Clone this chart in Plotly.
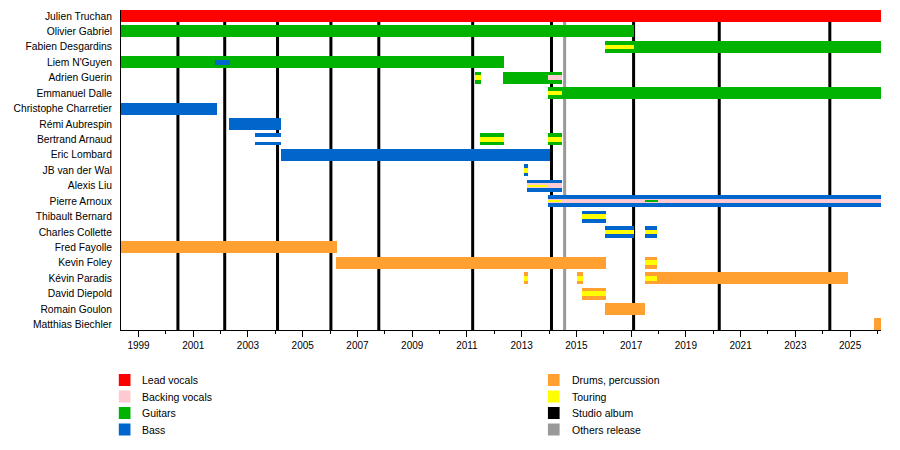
import plotly.graph_objects as go

# band members, top to bottom
members = [
    "Julien Truchan", "Olivier Gabriel", "Fabien Desgardins", "Liem N'Guyen",
    "Adrien Guerin", "Emmanuel Dalle", "Christophe Charretier", "Rémi Aubrespin",
    "Bertrand Arnaud", "Eric Lombard", "JB van der Wal", "Alexis Liu",
    "Pierre Arnoux", "Thibault Bernard", "Charles Collette", "Fred Fayolle",
    "Kevin Foley", "Kévin Paradis", "David Diepold", "Romain Goulon",
    "Matthias Biechler",
]

START = 1998.36
NOW = 2026.13

colors = {
    "Lead vocals": "#FF0000",
    "Backing vocals": "#FFC9D2",
    "Guitars": "#00B300",
    "Bass": "#0066CC",
    "Drums, percussion": "#FFA030",
    "Touring": "#FFFF00",
    "Studio album": "#000000",
    "Others release": "#999999",
    "gap": "#FFFFFF",
}

# main bars
main_member = [
    "Julien Truchan", "Olivier Gabriel", "Fabien Desgardins", "Liem N'Guyen",
    "Adrien Guerin", "Adrien Guerin", "Emmanuel Dalle", "Christophe Charretier",
    "Rémi Aubrespin", "Bertrand Arnaud", "Bertrand Arnaud", "Bertrand Arnaud",
    "Eric Lombard", "JB van der Wal", "Alexis Liu", "Pierre Arnoux",
    "Thibault Bernard", "Charles Collette", "Charles Collette", "Fred Fayolle",
    "Kevin Foley", "Kevin Foley", "Kévin Paradis", "Kévin Paradis", "Kévin Paradis",
    "David Diepold", "Romain Goulon", "Matthias Biechler",
]
main_start = [
    START, START, 2016.06, START,
    2011.31, 2012.30, 2013.97, START,
    2002.32, 2003.24, 2011.46, 2013.97,
    2004.19, 2013.07, 2013.20, 2013.97,
    2015.20, 2016.06, 2017.49, START,
    2006.23, 2017.49, 2013.07, 2015.04, 2017.49,
    2015.20, 2016.06, 2025.87,
]
main_end = [
    NOW, 2017.12, NOW, 2012.34,
    2011.50, 2014.49, NOW, 2001.85,
    2004.19, 2004.19, 2012.34, 2014.49,
    2014.02, 2013.24, 2014.49, NOW,
    2016.08, 2017.10, 2017.95, 2006.27,
    2016.08, 2017.96, 2013.24, 2015.24, 2024.93,
    2016.08, 2017.52, NOW,
]
main_role = [
    "Lead vocals", "Guitars", "Guitars", "Guitars",
    "Guitars", "Guitars", "Guitars", "Bass",
    "Bass", "Bass", "Guitars", "Guitars",
    "Bass", "Bass", "Bass", "Bass",
    "Bass", "Bass", "Bass", "Drums, percussion",
    "Drums, percussion", "Drums, percussion", "Drums, percussion",
    "Drums, percussion", "Drums, percussion",
    "Drums, percussion", "Drums, percussion", "Drums, percussion",
]

# inner stripes (touring, second roles)
inner_member = [
    "Fabien Desgardins", "Liem N'Guyen", "Adrien Guerin", "Adrien Guerin",
    "Emmanuel Dalle", "Bertrand Arnaud", "Bertrand Arnaud", "Bertrand Arnaud",
    "JB van der Wal", "Alexis Liu", "Pierre Arnoux", "Thibault Bernard",
    "Charles Collette", "Charles Collette", "Kevin Foley",
    "Kévin Paradis", "Kévin Paradis", "Kévin Paradis", "David Diepold",
]
inner_start = [
    2016.06, 2001.80, 2011.31, 2013.97,
    2013.97, 2003.24, 2011.46, 2013.97,
    2013.07, 2013.20, 2013.97, 2015.20,
    2016.06, 2017.49, 2017.49,
    2013.07, 2015.04, 2017.49, 2015.20,
]
inner_end = [
    2017.12, 2002.35, 2011.50, 2014.49,
    2014.49, 2004.19, 2012.34, 2014.49,
    2013.24, 2014.49, NOW, 2016.08,
    2017.10, 2017.95, 2017.96,
    2013.24, 2015.24, 2017.96, 2016.08,
]
inner_role = [
    "Touring", "Bass", "Touring", "Backing vocals",
    "Touring", "gap", "Touring", "Touring",
    "Touring", "Backing vocals", "Backing vocals", "Touring",
    "Touring", "Touring", "Touring",
    "Touring", "Touring", "Touring", "Touring",
]

# thin core stripes on top of inner ones
core_member = ["Alexis Liu", "Pierre Arnoux", "Pierre Arnoux"]
core_start = [2013.20, 2013.97, 2017.50]
core_end = [2013.97, 2014.49, 2017.98]
core_role = ["Touring", "Touring", "Guitars"]

studio_albums = [2000.44, 2002.15, 2004.08, 2006.03, 2007.78,
                 2011.21, 2014.09, 2017.09, 2020.22, 2024.26]
other_releases = [2014.57]

legend_left = ["Lead vocals", "Backing vocals", "Guitars", "Bass"]
legend_right = ["Drums, percussion", "Touring", "Studio album", "Others release"]

row = {m: i for i, m in enumerate(members)}


def bar_layer(mem, s, e, r, width):
    return go.Bar(
        orientation="h",
        y=[row[m] for m in mem],
        base=s,
        x=[b - a for a, b in zip(s, e)],
        width=width,
        marker=dict(color=[colors[c] for c in r], line=dict(width=0)),
        showlegend=False,
        hoverinfo="skip",
    )


fig = go.Figure()
fig.add_trace(bar_layer(main_member, main_start, main_end, main_role, 0.78))
fig.add_trace(bar_layer(inner_member, inner_start, inner_end, inner_role, 0.3))
fig.add_trace(bar_layer(core_member, core_start, core_end, core_role, 0.15))

shapes = []
for yr in studio_albums:
    shapes.append(dict(type="line", xref="x", yref="paper", x0=yr, x1=yr, y0=0, y1=1,
                       line=dict(color=colors["Studio album"], width=3), layer="below"))
for yr in other_releases:
    shapes.append(dict(type="line", xref="x", yref="paper", x0=yr, x1=yr, y0=0, y1=1,
                       line=dict(color=colors["Others release"], width=3), layer="below"))

# page has an 8px body margin, so the figure starts at (8, 8) on screen
OFF = 8
PL, PR, PT, PB = 120.5, 881, 10, 330   # plot area, screen pixels


def px(x):
    return (x - PL) / (PR - PL)


def py(y):
    return (PB - y) / (PB - PT)


annotations = []
for col, (sx, tx) in zip([legend_left, legend_right], [(118.3, 140), (547.7, 570)]):
    for i, name in enumerate(col):
        cy = 380 + i * 16.5
        shapes.append(dict(type="rect", xref="paper", yref="paper",
                           x0=px(sx), x1=px(sx + 11.7), y0=py(cy - 6), y1=py(cy + 6),
                           fillcolor=colors[name], line=dict(width=0)))
        annotations.append(dict(xref="paper", yref="paper", x=px(tx), y=py(cy),
                                text=name, showarrow=False, xanchor="left", yanchor="middle",
                                font=dict(size=10.5, color="black")))

fig.update_layout(
    width=900, height=450,
    margin=dict(l=PL - OFF, r=900 - (PR - OFF), t=PT - OFF, b=450 - (PB - OFF),
                autoexpand=False),
    barmode="overlay",
    bargap=0,
    plot_bgcolor="white",
    paper_bgcolor="white",
    font=dict(family="Liberation Sans, Arial, sans-serif", size=10, color="black"),
    shapes=shapes,
    annotations=annotations,
    xaxis=dict(
        range=[START, NOW],
        tickmode="array",
        tickvals=list(range(1999, 2026, 2)),
        ticks="outside", ticklen=6, tickcolor="black", tickwidth=1,
        minor=dict(ticks="outside", ticklen=3, tickmode="linear", tick0=1998, dtick=1,
                   tickcolor="black"),
        showgrid=False, zeroline=False,
        showline=True, linecolor="black", linewidth=1,
        tickfont=dict(size=10),
    ),
    yaxis=dict(
        range=[20.357, -0.389],
        tickmode="array",
        tickvals=list(range(len(members))),
        ticktext=members,
        ticks="", ticklabelstandoff=6,
        showgrid=False, zeroline=False,
        showline=True, linecolor="black", linewidth=1,
        tickfont=dict(size=10.3),
    ),
)

fig.write_html("out.html")
